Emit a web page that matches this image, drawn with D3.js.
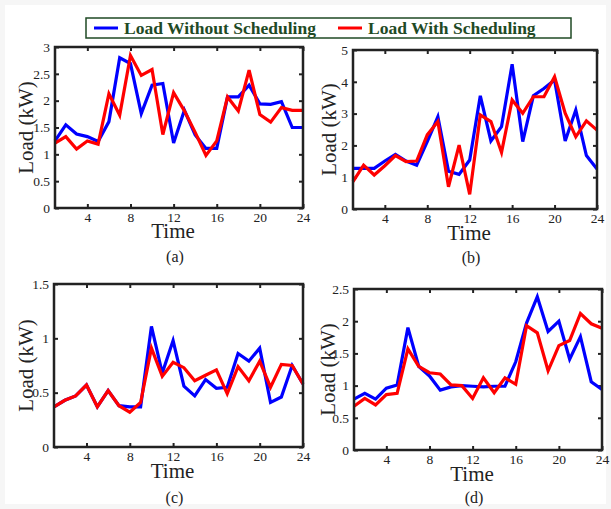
<!DOCTYPE html>
<html>
<head>
<meta charset="utf-8">
<script src="https://cdn.jsdelivr.net/npm/d3@7/dist/d3.min.js"></script>
<style>
  body { margin: 0; background: #f6f6f6; }
  svg { display: block; }
</style>
</head>
<body>
<div id="chart"></div>
<script>
// hours 1..24
const hours = d3.range(1, 25);

// panel (a)
const aWithout = [1.25, 1.55, 1.38, 1.33, 1.24, 1.61, 2.80, 2.69, 1.76, 2.29, 2.32, 1.21, 1.82, 1.36, 1.11, 1.11, 2.07, 2.07, 2.29, 1.94, 1.93, 1.98, 1.50, 1.50];
const aWith = [1.21, 1.33, 1.10, 1.25, 1.19, 2.13, 1.73, 2.84, 2.47, 2.58, 1.37, 2.15, 1.81, 1.41, 0.98, 1.25, 2.07, 1.81, 2.57, 1.74, 1.60, 1.87, 1.82, 1.82];
// panel (b)
const bWithout = [1.28, 1.28, 1.28, 1.51, 1.72, 1.51, 1.38, 2.12, 2.90, 1.19, 1.09, 1.54, 3.56, 2.14, 2.59, 4.55, 2.12, 3.56, 3.79, 4.06, 2.14, 3.11, 1.68, 1.26];
const bWith = [0.86, 1.38, 1.07, 1.36, 1.68, 1.49, 1.51, 2.33, 2.75, 0.70, 2.01, 0.46, 2.96, 2.75, 1.78, 3.43, 3.01, 3.53, 3.53, 4.16, 3.01, 2.27, 2.77, 2.48];
// panel (c)
const cWithout = [0.37, 0.43, 0.47, 0.57, 0.37, 0.52, 0.38, 0.37, 0.37, 1.11, 0.68, 0.98, 0.56, 0.47, 0.62, 0.54, 0.55, 0.86, 0.79, 0.91, 0.41, 0.46, 0.75, 0.58];
const cWith = [0.37, 0.43, 0.47, 0.57, 0.37, 0.52, 0.38, 0.32, 0.41, 0.91, 0.65, 0.78, 0.73, 0.61, 0.66, 0.71, 0.49, 0.74, 0.61, 0.79, 0.55, 0.76, 0.75, 0.58];
// panel (d)
const dWithout = [0.79, 0.88, 0.79, 0.96, 1.01, 1.90, 1.30, 1.15, 0.93, 0.98, 1.00, 0.99, 0.98, 0.99, 0.99, 1.37, 1.97, 2.38, 1.84, 2.00, 1.41, 1.76, 1.06, 0.94];
const dWith = [0.68, 0.80, 0.70, 0.86, 0.88, 1.57, 1.30, 1.20, 1.18, 1.01, 1.00, 0.80, 1.12, 0.89, 1.12, 1.02, 1.93, 1.82, 1.23, 1.62, 1.70, 2.12, 1.96, 1.89];

const xTicks = [4, 8, 12, 16, 20, 24];
const legendLabels = ["Load Without Scheduling", "Load With Scheduling"];
const seriesColors = ["#0000ff", "#ff0000"];

const width = 611;
const height = 509;
const serif = "'Liberation Serif', 'Times New Roman', serif";

const svg = d3.select('#chart').append('svg')
    .attr('width', width)
    .attr('height', height);

svg.append('rect')
    .attr('x', 5).attr('y', 5)
    .attr('width', width - 10).attr('height', height - 10)
    .attr('fill', '#fff');

// legend
const legend = svg.append('g').attr('class', 'legend');
legend.append('rect')
    .attr('x', 86).attr('y', 18)
    .attr('width', 485).attr('height', 20)
    .attr('fill', '#fff')
    .attr('stroke', '#1f4a25')
    .attr('stroke-width', 1.5);
const legendX = [94, 338];
legendLabels.forEach((t, i) => {
    legend.append('line')
        .attr('x1', legendX[i]).attr('x2', legendX[i] + 24)
        .attr('y1', 28).attr('y2', 28)
        .attr('stroke', seriesColors[i])
        .attr('stroke-width', 3);
    legend.append('text')
        .attr('x', legendX[i] + 30).attr('y', 34)
        .attr('font-family', serif)
        .attr('font-weight', 'bold')
        .attr('font-size', 17.5)
        .attr('fill', '#1f4a25')
        .text(t);
});

const panels = [
    {box: [55, 47, 303, 208], yMax: 3, yTicks: d3.range(0, 3.01, 0.5), without: aWithout, with: aWith, tag: '(a)', labelX: 33, timeY: 238, tagY: 262},
    {box: [353, 50, 597, 209], yMax: 5, yTicks: d3.range(0, 5.01, 1), without: bWithout, with: bWith, tag: '(b)', labelX: 336, timeY: 240, tagY: 263},
    {box: [54, 284, 303, 447], yMax: 1.5, yTicks: d3.range(0, 1.51, 0.5), without: cWithout, with: cWith, tag: '(c)', labelX: 33, timeY: 478, tagY: 503},
    {box: [354, 289, 602, 450], yMax: 2.5, yTicks: d3.range(0, 2.51, 0.5), without: dWithout, with: dWith, tag: '(d)', labelX: 335, timeY: 481, tagY: 503}
];

const fmt = v => (Math.round(v * 10) / 10).toString();

panels.forEach(p => {
    const [x0, y0, x1, y1] = p.box;
    const x = d3.scaleLinear().domain([1, 24]).range([x0, x1]);
    const y = d3.scaleLinear().domain([0, p.yMax]).range([y1, y0]);
    const g = svg.append('g');

    // inward ticks on all four sides
    const xb = d3.axisBottom(x).tickValues(xTicks).tickSize(-4).tickPadding(4).tickFormat(d3.format('d'));
    const xt = d3.axisTop(x).tickValues(xTicks).tickSize(-4).tickFormat('');
    const yl = d3.axisLeft(y).tickValues(p.yTicks).tickSize(-4).tickPadding(5).tickFormat(fmt);
    const yr = d3.axisRight(y).tickValues(p.yTicks).tickSize(-4).tickFormat('');

    g.append('g').attr('transform', `translate(0,${y1})`).call(xb);
    g.append('g').attr('transform', `translate(0,${y0})`).call(xt);
    g.append('g').attr('transform', `translate(${x0},0)`).call(yl);
    g.append('g').attr('transform', `translate(${x1},0)`).call(yr);

    g.selectAll('.domain').remove();
    g.selectAll('.tick line').attr('stroke', '#222').attr('stroke-width', 2);
    g.selectAll('.tick text')
        .attr('font-family', serif)
        .attr('font-size', 13.5)
        .attr('fill', '#222');

    const line = d3.line()
        .x((d, i) => x(hours[i]))
        .y(d => y(d))
        .curve(d3.curveLinear);

    [p.without, p.with].forEach((s, i) => {
        g.append('path')
            .attr('d', line(s))
            .attr('fill', 'none')
            .attr('stroke', seriesColors[i])
            .attr('stroke-width', 3.2)
            .attr('stroke-linejoin', 'miter');
    });

    g.append('rect')
        .attr('x', x0).attr('y', y0)
        .attr('width', x1 - x0).attr('height', y1 - y0)
        .attr('fill', 'none')
        .attr('stroke', '#222')
        .attr('stroke-width', 2.5);

    g.append('text')
        .attr('x', (x0 + x1) / 2 - 6).attr('y', p.timeY)
        .attr('text-anchor', 'middle')
        .attr('font-family', serif)
        .attr('font-size', 21)
        .attr('fill', '#222')
        .text('Time');

    g.append('text')
        .attr('transform', `translate(${p.labelX},${(y0 + y1) / 2}) rotate(-90)`)
        .attr('text-anchor', 'middle')
        .attr('font-family', serif)
        .attr('font-size', 21)
        .attr('fill', '#222')
        .text('Load (kW)');

    g.append('text')
        .attr('x', (x0 + x1) / 2 - 4).attr('y', p.tagY)
        .attr('text-anchor', 'middle')
        .attr('font-family', serif)
        .attr('font-size', 16)
        .attr('fill', '#222')
        .text(p.tag);
});
</script>
</body>
</html>
